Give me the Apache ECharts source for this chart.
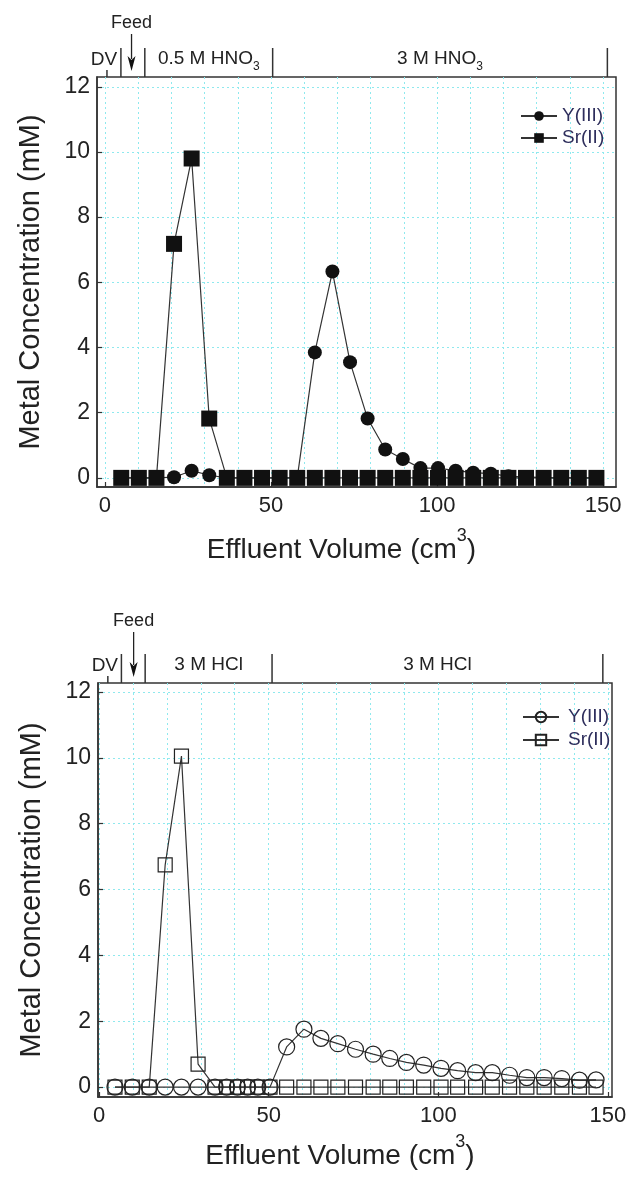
<!DOCTYPE html>
<html>
<head>
<meta charset="utf-8">
<script src="https://cdn.jsdelivr.net/npm/echarts@6/dist/echarts.min.js"></script>
<style>
html,body{margin:0;padding:0;background:#fff;}
#c{width:631px;height:1182px;}
</style>
</head>
<body>
<div id="c"></div>
<script>
// ---------- data ----------
// Top panel (HNO3 elution)
const vol1 = [4.9, 10.2, 15.5, 20.8, 26.1, 31.4, 36.7, 42.0, 47.3, 52.6, 57.9, 63.2, 68.5, 73.8, 79.1, 84.4, 89.7, 95.0, 100.3, 105.6, 110.9, 116.2, 121.5, 126.8, 132.1, 137.4, 142.7, 148.0];
const yttrium1 = [0, 0, 0, 0.02, 0.22, 0.08, 0, 0, 0, 0, 0, 3.85, 6.33, 3.55, 1.82, 0.87, 0.58, 0.30, 0.30, 0.22, 0.16, 0.13, 0.05, 0.03, 0.01, 0, 0, 0];
const strontium1 = [0, 0, 0, 7.18, 9.80, 1.82, 0, 0, 0, 0, 0, 0, 0, 0, 0, 0, 0, 0, 0, 0, 0, 0, 0, 0, 0, 0, 0, 0];

// Bottom panel (HCl elution)
const vol2 = [4.7, 9.8, 14.8, 19.5, 24.3, 29.2, 34.2, 37.6, 40.8, 43.8, 46.8, 50.4, 55.3, 60.4, 65.4, 70.4, 75.6, 80.8, 85.7, 90.6, 95.7, 100.8, 105.7, 111.0, 115.9, 121.0, 126.1, 131.2, 136.4, 141.6, 146.5];
const yttrium2 = [0, 0, 0, 0, 0, 0, 0, 0, 0, 0, 0, 0, 1.22, 1.76, 1.48, 1.32, 1.15, 1.00, 0.87, 0.75, 0.67, 0.57, 0.50, 0.44, 0.44, 0.36, 0.29, 0.29, 0.26, 0.21, 0.22];
const strontium2 = [0, 0, 0, 6.75, 10.05, 0.70, 0, 0, 0, 0, 0, 0, 0, 0, 0, 0, 0, 0, 0, 0, 0, 0, 0, 0, 0, 0, 0, 0, 0, 0, 0];

const seriesNames = ['Y(III)', 'Sr(II)'];
const xTickLabels = [0, 50, 100, 150];
const xGridValues = [0, 10, 20, 30, 40, 50, 60, 70, 80, 90, 100, 110, 120, 130, 140, 150];
const yTickLabels = [0, 2, 4, 6, 8, 10, 12];

// annotation bar (x positions in effluent volume units)
const dvMark1 = 0.6, feedMark1 = 8;
const stageLines1 = [4.8, 12, 50.5, 151.3];
const stageText1 = [['0.5 M HNO', '3'], ['3 M HNO', '3']];
const dvMark2 = 2.6, feedMark2 = 10.2;
const stageLines2 = [6.6, 13.6, 51, 148.5];
const stageText2 = [['3 M HCl', ''], ['3 M HCl', '']];

// ---------- chart ----------
const FONT = 'Liberation Sans, Arial, sans-serif';
const INK = '#222';
const GRIDC = '#8fe9ee';
const grids = [
  {left: 97, top: 77, width: 519, height: 410},
  {left: 98, top: 683, width: 514, height: 414}
];
const xRange = [[-2.4, 153.9], [-0.3, 151.2]];
const yRange = [[-0.28, 12.3], [-0.3, 12.27]];

function pairs(xs, ys) { return xs.map((x, i) => [x, ys[i]]); }

const xAxes = [], yAxes = [];
grids.forEach((g, gi) => {
  xAxes.push({
    gridIndex: gi, type: 'value', min: xRange[gi][0], max: xRange[gi][1],
    name: 'Effluent Volume (cm{sup|3})', nameLocation: 'middle', nameGap: gi === 0 ? 40 : 36,
    nameTextStyle: {fontFamily: FONT, fontSize: 28, color: INK, lineHeight: 46, padding: [0, 30, 0, 0],
      rich: {sup: {fontFamily: FONT, fontSize: 18, lineHeight: 18, verticalAlign: 'top', color: INK}}},
    axisLine: {show: true, onZero: false, lineStyle: {color: '#333', width: 1.5}},
    axisTick: {show: true, inside: true, length: 5, customValues: xTickLabels, lineStyle: {color: '#333', width: 1.2}},
    axisLabel: {customValues: xTickLabels, fontFamily: FONT, fontSize: 22, color: INK, margin: 8},
    splitLine: {show: false}
  });
  xAxes.push({
    gridIndex: gi, type: 'value', min: xRange[gi][0], max: xRange[gi][1], position: 'bottom',
    axisLine: {show: false, onZero: false}, axisLabel: {show: false},
    axisTick: {show: false, customValues: xGridValues},
    splitLine: {show: true, lineStyle: {color: GRIDC, type: [2, 3], width: 1}}
  });
  yAxes.push({
    gridIndex: gi, type: 'value', min: yRange[gi][0], max: yRange[gi][1],
    name: 'Metal Concentration (mM)', nameLocation: 'middle', nameGap: 52,
    nameTextStyle: {fontFamily: FONT, fontSize: 29, color: INK},
    axisLine: {show: true, onZero: false, lineStyle: {color: '#333', width: 1.5}},
    axisTick: {show: true, inside: true, length: 5, customValues: yTickLabels, lineStyle: {color: '#333', width: 1.2}},
    axisLabel: {customValues: yTickLabels, fontFamily: FONT, fontSize: 23, color: INK, margin: 7},
    splitLine: {show: true, lineStyle: {color: GRIDC, type: [2, 3], width: 1}}
  });
});

const lineStyle = {color: '#333', width: 1.2};
const series = [
  {type: 'line', name: seriesNames[0], xAxisIndex: 0, yAxisIndex: 0, data: pairs(vol1, yttrium1),
   symbol: 'circle', symbolSize: 14, itemStyle: {color: '#111'}, lineStyle, z: 2},
  {type: 'line', name: seriesNames[1], xAxisIndex: 0, yAxisIndex: 0, data: pairs(vol1, strontium1),
   symbol: 'rect', symbolSize: 16, itemStyle: {color: '#111'}, lineStyle, z: 3},
  {type: 'line', name: seriesNames[0] + ' ', xAxisIndex: 2, yAxisIndex: 1, data: pairs(vol2, yttrium2),
   symbol: 'circle', symbolSize: 16, itemStyle: {color: 'rgba(0,0,0,0)', borderColor: '#222', borderWidth: 1.2}, lineStyle, z: 2},
  {type: 'line', name: seriesNames[1] + ' ', xAxisIndex: 2, yAxisIndex: 1, data: pairs(vol2, strontium2),
   symbol: 'rect', symbolSize: 14, itemStyle: {color: 'rgba(0,0,0,0)', borderColor: '#222', borderWidth: 1.2}, lineStyle, z: 3}
];

const legendText = {fontFamily: FONT, fontSize: 19, color: '#2e2e5c', lineHeight: 20};
const option = {
  animation: false,
  backgroundColor: '#fff',
  grid: grids.map(g => Object.assign({show: true, borderColor: '#333', borderWidth: 1.5, backgroundColor: 'transparent', containLabel: false, outerBoundsMode: 'none'}, g)),
  xAxis: xAxes,
  yAxis: yAxes,
  legend: [
    {left: 515, top: 101, orient: 'vertical', data: seriesNames, itemWidth: 36, itemHeight: 12, itemGap: 2,
     textStyle: legendText, formatter: n => n.trim()},
    {left: 517, top: 702, orient: 'vertical', data: seriesNames.map(n => n + ' '), itemWidth: 36, itemHeight: 13, itemGap: 3,
     textStyle: Object.assign({padding: [0, 0, 0, 4]}, legendText), formatter: n => n.trim()}
  ],
  series
};

const chart = echarts.init(document.getElementById('c'), null, {renderer: 'canvas'});
chart.setOption(option);

// ---------- annotation bars above each panel ----------
function annot(axisIdx, top, dv, feed, lines, texts, feedOffset) {
  const px = v => chart.convertToPixel({xAxisIndex: axisIdx}, v);
  const els = [];
  const stroke = {stroke: '#333', lineWidth: 1.5};
  lines.forEach(v => {
    const x = px(v);
    els.push({type: 'line', shape: {x1: x, y1: top - 29, x2: x, y2: top}, style: stroke, z: 10});
  });
  const xd = px(dv);
  els.push({type: 'line', shape: {x1: xd, y1: top - 7, x2: xd, y2: top}, style: stroke, z: 10});
  els.push({type: 'text', x: xd - 3, y: top - 17, z: 10,
    style: {text: 'DV', fontFamily: FONT, fontSize: 19, fill: INK, align: 'center', verticalAlign: 'middle'}});
  for (let i = 0; i < texts.length; i++) {
    const cx = (px(lines[i + 1]) + px(lines[i + 2])) / 2;
    const t = texts[i];
    const txt = t[1] ? '{m|' + t[0] + '}{s|' + t[1] + '}' : '{m|' + t[0] + '}';
    els.push({type: 'text', x: cx, y: top - 18, z: 10,
      style: {text: txt, align: 'center', verticalAlign: 'middle', fill: INK,
        rich: {m: {fontFamily: FONT, fontSize: 19, lineHeight: 28, fill: INK, verticalAlign: 'middle'},
               s: {fontFamily: FONT, fontSize: 12, lineHeight: 12, fill: INK, verticalAlign: 'bottom'}}}});
  }
  const xf = px(feed);
  els.push({type: 'text', x: xf, y: top - feedOffset, z: 10,
    style: {text: 'Feed', fontFamily: FONT, fontSize: 18, fill: INK, align: 'center', verticalAlign: 'middle'}});
  const tip = top - 6;
  els.push({type: 'line', shape: {x1: xf, y1: top - feedOffset + 11, x2: xf, y2: tip - 12}, style: {stroke: '#222', lineWidth: 1.3}, z: 10});
  els.push({type: 'polygon', shape: {points: [[xf - 4, tip - 15], [xf, tip - 11], [xf + 4, tip - 15], [xf, tip]]}, style: {fill: '#111'}, z: 10});
  return els;
}

const graphic = [].concat(
  annot(0, grids[0].top, dvMark1, feedMark1, stageLines1, stageText1, 54),
  annot(2, grids[1].top, dvMark2, feedMark2, stageLines2, stageText2, 62)
);
chart.setOption({graphic});
</script>
</body>
</html>
